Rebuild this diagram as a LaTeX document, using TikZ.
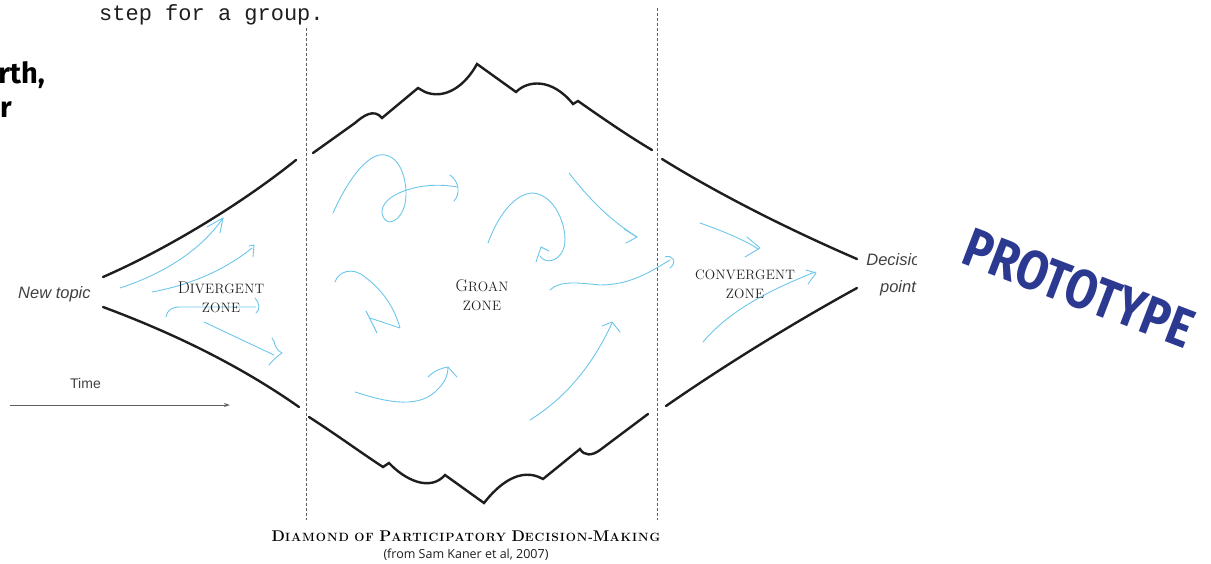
\documentclass[tikz,border=0pt]{standalone}
\usepackage{fontspec}
\usetikzlibrary{arrows.meta}
\newfontfamily\handfont{Liberation Sans}
\newfontfamily\notefont{Liberation Mono}
\newfontfamily\heavyfont{Fira Sans}
\newfontfamily\capfont{Open Sans}
\newfontfamily\titlefont[LetterSpace=8]{Latin Modern Roman}
\newfontfamily\zonefont[LetterSpace=2]{Latin Modern Roman}
\definecolor{penblue}{RGB}{108,198,234}
\definecolor{ink}{RGB}{30,30,30}
\definecolor{stamp}{RGB}{43,57,144}
\definecolor{guide}{RGB}{95,95,95}
% initial capital of a small-caps label
\newcommand\initcap[1]{{\fontsize{17}{17}\selectfont #1}}
\newcommand\capinit[1]{{\fontsize{15.5}{15.5}\selectfont #1}}
\tikzset{
  edge/.style={draw=ink, line width=2.4pt, line cap=round},
  pen/.style={draw=penblue, line width=0.9pt, line cap=round, line join=round},
  guideline/.style={draw=guide, line width=0.9pt, dash pattern=on 3pt off 2pt},
  zone/.style={text=ink, align=center, inner sep=0pt, anchor=base,
    font=\zonefont\fontsize{13.6}{19}\selectfont},
  hand/.style={text=ink!85, inner sep=0pt, anchor=base west,
    font=\handfont\itshape\fontsize{16.5}{16.5}\selectfont},
}
\begin{document}
\begin{tikzpicture}[x=1pt,y=-1pt]
\useasboundingbox (0,0) rectangle (1211,563);

% running text around the figure
\node[inner sep=0pt, anchor=base west, text=ink, font=\notefont\fontsize{22}{22}\selectfont]
  (note) at (99,20) {step for a group.};
\node[inner sep=0pt, anchor=base east, text=black, font=\heavyfont\bfseries\fontsize{29}{29}\selectfont]
  (head1) at (45,83) {rth,};
\node[inner sep=0pt, anchor=base east, text=black, font=\heavyfont\bfseries\fontsize{29}{29}\selectfont]
  (head2) at (12,117) {r};

% zone boundaries
\draw[guideline] (306,28) -- (306,520);
\draw[guideline] (657,8) -- (657,520);

% outline of the diamond
\draw[edge] (103,277) .. controls (165,250) and (240,205) .. (296,160);
\draw[edge] (103,307) .. controls (165,330) and (235,362) .. (299,407);
\draw[edge, line join=miter] (313,153) -- (355,123) .. controls (363,116) and (374,108) .. (382,118)
  -- (418,88) -- (425,92) .. controls (445,100) and (465,86) .. (477,64)
  -- (516,92) .. controls (528,80) and (552,78) .. (573,104) -- (578,101)
  .. controls (605,120) and (630,137) .. (652,150);
\draw[edge, line join=miter] (309,417) .. controls (340,437) and (360,452) .. (383,467) -- (389,463)
  .. controls (405,480) and (430,492) .. (445,475) -- (484,503)
  .. controls (498,485) and (520,466) .. (543,479) -- (580,449)
  .. controls (584,456) and (592,456) .. (600,450) -- (648,414);
\draw[edge] (662,159) .. controls (720,195) and (790,230) .. (857,259);
\draw[edge] (666,406) .. controls (725,365) and (795,322) .. (857,288);

% divergent zone strokes
\draw[pen] (120,288) .. controls (160,275) and (200,252) .. (223,218);
\draw[pen] (207,227) -- (223,218) -- (220,233);
\draw[pen] (152,292) .. controls (190,285) and (225,270) .. (252,248);
\draw[pen] (249,246) -- (254,245) -- (253,257);
\draw[pen] (166,317) .. controls (167,310) and (172,307) .. (180,307) -- (256,307);
\draw[pen] (255,298) .. controls (260,303) and (260,310) .. (256,313);
\draw[pen] (204,322) -- (274,355);
\draw[pen] (272,338) .. controls (276,342) and (273,348) .. (282,353)
  .. controls (276,357) and (272,361) .. (269,365);

% groan zone strokes
\draw[pen] (333,213) .. controls (350,175) and (370,152) .. (385,155)
  .. controls (405,158) and (410,195) .. (403,210)
  .. controls (398,222) and (385,228) .. (382,213)
  .. controls (380,195) and (420,180) .. (457,187);
\draw[pen] (450,175) .. controls (460,182) and (460,195) .. (454,201);
\draw[pen] (488,243) .. controls (500,210) and (518,193) .. (533,193)
  .. controls (558,195) and (570,235) .. (563,250)
  .. controls (558,262) and (545,264) .. (540,256);
\draw[pen] (536,262) -- (541,247) -- (549,251);
\draw[pen] (569,173) .. controls (590,200) and (610,220) .. (637,237);
\draw[pen] (624,229) -- (637,237) -- (626,243);
\draw[pen] (335,282) .. controls (338,272) and (352,266) .. (365,277)
  .. controls (385,292) and (395,310) .. (400,328) -- (370,318);
\draw[pen] (366,311) -- (377,333);
\draw[pen] (355,392) .. controls (380,400) and (415,410) .. (435,392)
  .. controls (445,383) and (448,375) .. (448,367);
\draw[pen] (428,377) .. controls (435,370) and (442,368) .. (448,367) -- (457,377);
\draw[pen] (530,420) .. controls (570,395) and (595,360) .. (612,323);
\draw[pen] (602,326) -- (612,322) -- (620,332);
\draw[pen] (550,290) .. controls (560,280) and (580,283) .. (600,285)
  .. controls (630,285) and (650,272) .. (670,260);
\draw[pen] (665,257) .. controls (672,254) and (678,262) .. (670,268);

% convergent zone strokes
\draw[pen] (700,223) .. controls (720,230) and (745,240) .. (758,249);
\draw[pen] (747,237) -- (760,248) -- (745,257);
\draw[pen] (703,342) .. controls (730,310) and (770,290) .. (815,272);
\draw[pen] (806,270) -- (816,273) -- (808,284);

% zone labels (anchored on the baseline of their last line)
\node[zone] (div) at (221,312) {\initcap{D}IVERGENT\\ZONE};
\node[zone] (groan) at (482,310) {\initcap{G}ROAN\\ZONE};
\node[zone] (conv) at (745,298) {CONVERGENT\\ZONE};

% start, end and time axis
\node[hand] (newtopic) at (18,298) {New topic};
\node[hand, font=\handfont\fontsize{14}{14}\selectfont] (time) at (70,388) {Time};
\coordinate (t0) at (10,405);
\coordinate (t1) at (230,405);
\draw[draw=guide, line width=1pt, -{Stealth[length=6pt,width=4pt]}] (t0) -- (t1);
\begin{scope}
  \clip (840,230) rectangle (916,310);
  \node[hand, anchor=base] (decision) at (898,265) {Decision};
  \node[hand, anchor=base] (point) at (898,292) {point};
\end{scope}

% stamp
\node[inner sep=0pt, rotate=-21, text=stamp, font=\heavyfont\bfseries\fontsize{55}{55}\selectfont]
  (proto) at (1079,288) {\scalebox{0.83}[1]{PROTOTYPE}};

% caption
\node[inner sep=0pt, anchor=base, text=black, font=\titlefont\bfseries\fontsize{12}{12}\selectfont]
  (title) at (466,541) {\capinit{D}IAMOND OF \capinit{P}ARTICIPATORY \capinit{D}ECISION-\capinit{M}AKING};
\node[inner sep=0pt, anchor=base, text=ink, font=\capfont\fontsize{12.5}{12.5}\selectfont]
  (source) at (466,558) {(from Sam Kaner et al, 2007)};
\end{tikzpicture}
\end{document}
